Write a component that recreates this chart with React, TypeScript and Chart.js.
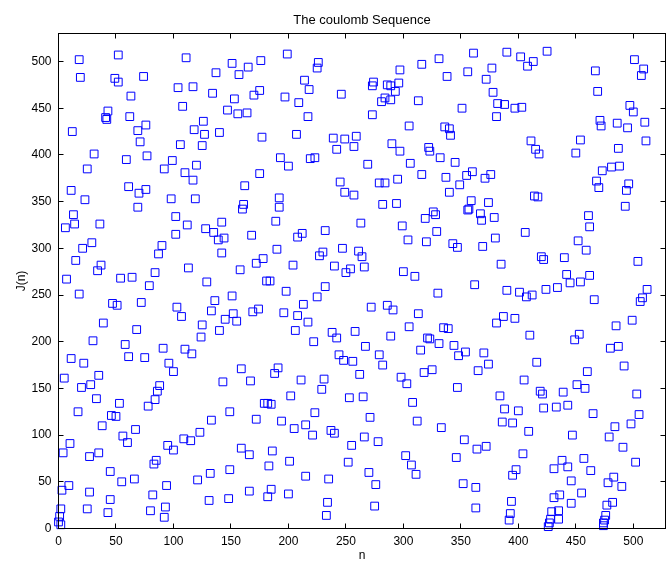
import React, { useEffect, useRef } from 'react';
import { Chart, registerables } from 'chart.js';

Chart.register(...registerables);

// ---- Text ----
const TITLE = 'The coulomb Sequence';
const X_LABEL = 'n';
const Y_LABEL = 'J(n)';

// ---- Axis ticks ----
const xTicks = [0, 50, 100, 150, 200, 250, 300, 350, 400, 450, 500];
const yTicks = [0, 50, 100, 150, 200, 250, 300, 350, 400, 450, 500];
const X_MAX = 528;
const Y_MAX = 530;

// ---- Data: [n, J(n)], grouped by region ----
const topLeft = [
  [18, 502], [52, 507], [111, 504], [19, 483], [49, 482], [52, 478], [74, 484], [151, 498], [165, 494], [157, 486],
  [137, 488], [104, 472], [117, 473], [134, 466], [63, 463], [108, 452], [153, 460], [170, 464], [43, 447], [41, 440],
  [42, 438], [62, 441], [147, 448], [156, 444], [164, 445], [126, 436], [118, 427], [127, 422], [140, 424], [76, 432],
  [69, 426], [71, 414], [12, 425], [106, 411], [125, 410], [31, 401],
];
const topMid = [
  [176, 501], [199, 508], [226, 499], [225, 493], [214, 480], [218, 470], [175, 469], [197, 462], [209, 456], [246, 465],
  [217, 441], [177, 419], [207, 422], [239, 418], [249, 417], [259, 420], [242, 406], [257, 409], [274, 478], [273, 474],
  [286, 475], [289, 474], [296, 477], [293, 468], [297, 491], [316, 497], [331, 503], [338, 484], [284, 461], [281, 457],
  [289, 459], [313, 458], [273, 443], [305, 431], [336, 430], [340, 428], [341, 421], [351, 450], [290, 412], [297, 404],
  [322, 408], [323, 404],
];
const topRight = [
  [361, 509], [390, 510], [402, 505], [413, 500], [408, 495], [425, 511], [356, 489], [377, 493], [372, 481], [378, 467],
  [382, 455], [388, 454], [397, 450], [403, 451], [381, 441], [411, 415], [415, 406], [418, 401], [454, 416], [450, 402],
  [467, 490], [469, 468], [471, 437], [472, 431], [501, 502], [509, 492], [507, 485], [497, 453], [500, 446], [486, 434],
  [495, 429], [510, 435], [511, 415], [487, 407],
];
const upperLeft = [
  [59, 395], [77, 399], [99, 394], [92, 385], [120, 389], [110, 381], [117, 373], [25, 385], [11, 362], [23, 352],
  [61, 366], [70, 359], [76, 363], [69, 344], [98, 353], [119, 353], [162, 367], [161, 347], [160, 342], [13, 336],
  [6, 322], [14, 326], [36, 326], [102, 334], [112, 325], [102, 315], [128, 321], [135, 317], [142, 328], [139, 309],
  [144, 311], [168, 314], [142, 295], [29, 306], [21, 300], [90, 303], [87, 294], [15, 287], [37, 282], [34, 276],
  [84, 274], [113, 279], [158, 277], [172, 284], [7, 267], [54, 268], [64, 269],
];
const upperMid = [
  [193, 397], [219, 396], [223, 397], [200, 388], [175, 380], [269, 390], [306, 391], [332, 397], [345, 392], [245, 371],
  [249, 360], [257, 357], [279, 370], [284, 370], [295, 374], [316, 379], [337, 376], [349, 368], [340, 360], [282, 347],
  [294, 348], [192, 354], [192, 344], [189, 329], [232, 319], [263, 327], [212, 316], [208, 312], [326, 339], [328, 336],
  [319, 332], [299, 324], [329, 318], [304, 309], [320, 307], [343, 305], [347, 301], [190, 299], [178, 289], [247, 300],
  [261, 297], [230, 296], [227, 292], [264, 291], [204, 282], [240, 281], [254, 278], [250, 274], [266, 280], [300, 275],
  [310, 270],
];
const upperRight = [
  [360, 382], [355, 378], [371, 375], [376, 379], [473, 383], [481, 387], [488, 388], [468, 372], [470, 365], [496, 369],
  [494, 362], [493, 345], [414, 356], [417, 355], [359, 351], [357, 342], [356, 341], [374, 349], [367, 337], [368, 330],
  [379, 333], [461, 335], [462, 323], [406, 317], [380, 311], [369, 302], [452, 308], [459, 298], [420, 291], [422, 288],
  [440, 290], [504, 286], [385, 283], [442, 272], [462, 271],
];
const lowerLeft = [
  [79, 260], [129, 264], [18, 251], [47, 241], [51, 239], [72, 242], [103, 237], [107, 227], [136, 244], [133, 233],
  [151, 249], [152, 230], [145, 224], [155, 222], [169, 232], [39, 220], [68, 213], [125, 218], [140, 212], [124, 205],
  [30, 201], [58, 197], [91, 193], [110, 192], [116, 187], [61, 184], [75, 183], [11, 182], [22, 177], [96, 177],
  [100, 168], [159, 171], [167, 158], [143, 157], [5, 161], [20, 151], [28, 154], [35, 164], [88, 153], [86, 147],
  [84, 138], [33, 139], [53, 134],
];
const lowerMid = [
  [181, 265], [184, 265], [198, 254], [232, 259], [225, 248], [174, 235], [213, 240], [196, 231], [208, 228], [217, 221],
  [206, 212], [222, 200], [238, 210], [242, 204], [258, 211], [272, 237], [286, 239], [291, 234], [313, 230], [330, 252],
  [305, 216], [289, 206], [267, 195], [279, 186], [244, 186], [248, 180], [256, 179], [282, 175], [321, 204], [323, 203],
  [335, 215], [339, 214], [331, 198], [315, 191], [344, 196], [348, 185], [191, 172], [188, 166], [262, 165], [318, 167],
  [325, 170], [298, 162], [303, 155], [211, 159], [231, 160], [229, 149], [202, 142], [253, 140], [265, 141], [347, 151],
  [308, 135], [179, 134], [182, 134], [185, 133],
];
const lowerRight = [
  [362, 261], [390, 255], [401, 253], [407, 248], [412, 250], [424, 256], [434, 258], [445, 263], [454, 264], [466, 245],
  [512, 256], [508, 247], [506, 243], [387, 227], [381, 220], [397, 225], [410, 207], [499, 223], [485, 217], [453, 208],
  [449, 202], [480, 193], [487, 195], [354, 189], [370, 188], [416, 178], [374, 176], [365, 169], [492, 174], [460, 168],
  [405, 159], [451, 154], [458, 150], [384, 142], [419, 147], [421, 144], [439, 146], [503, 144],
];
const bottomLeft = [
  [78, 131], [17, 125], [46, 121], [50, 120], [38, 110], [67, 106], [56, 99], [60, 92], [10, 91], [4, 81],
  [27, 77], [35, 81], [83, 69], [85, 73], [95, 89], [100, 84], [109, 96], [115, 94], [123, 103], [133, 116],
  [149, 125], [159, 86], [166, 79], [172, 117], [45, 61], [55, 50], [66, 53], [9, 46], [3, 41], [27, 39],
  [45, 31], [25, 21], [43, 17], [2, 21], [1, 13], [0, 7], [2, 4], [82, 36], [80, 19], [94, 46],
  [93, 23], [92, 12], [121, 52], [132, 59], [149, 63], [131, 30], [148, 32], [166, 40],
];
const bottomMid = [
  [194, 115], [223, 124], [205, 107], [215, 111], [221, 100], [237, 105], [240, 102], [255, 89], [266, 98], [271, 119],
  [278, 93], [312, 115], [333, 108], [186, 83], [183, 67], [201, 72], [215, 56], [235, 53], [252, 71], [270, 60],
  [276, 47], [302, 78], [307, 68], [311, 58], [346, 76], [185, 42], [182, 34], [200, 37], [234, 28], [233, 14],
  [275, 24],
];
const bottomRight = [
  [388, 128], [400, 126], [422, 129], [433, 130], [443, 132], [386, 114], [395, 113], [409, 104], [353, 95], [364, 85],
  [372, 88], [404, 80], [465, 123], [505, 122], [498, 112], [484, 109], [479, 98], [447, 100], [491, 87], [502, 71],
  [457, 75], [463, 62], [438, 73], [443, 66], [431, 64], [398, 63], [395, 57], [483, 55], [478, 49], [490, 45],
  [446, 51], [352, 48], [363, 44], [455, 38], [436, 36], [431, 33], [446, 27], [394, 29], [363, 22], [393, 16],
  [392, 9], [435, 19], [429, 18], [435, 10], [428, 10], [427, 6], [426, 2], [482, 28], [477, 25], [476, 14],
  [475, 9], [474, 6], [474, 3],
];

const FONT = "'Liberation Sans', Arial, Helvetica, sans-serif";

const matlabAxes = {
  id: 'matlabAxes',
  afterDatasetsDraw(chart: any) {
    const { ctx, chartArea: a, scales } = chart;
    ctx.save();
    ctx.strokeStyle = '#000';
    ctx.lineWidth = 1;
    ctx.strokeRect(a.left, a.top, a.right - a.left, a.bottom - a.top);
    const tl = 5;
    ctx.beginPath();
    for (const v of xTicks) {
      const px = Math.floor(scales.x.getPixelForValue(v)) + 0.5;
      ctx.moveTo(px, a.bottom);
      ctx.lineTo(px, a.bottom - tl);
      ctx.moveTo(px, a.top);
      ctx.lineTo(px, a.top + tl);
    }
    for (const v of yTicks) {
      const py = Math.floor(scales.y.getPixelForValue(v)) + 0.5;
      ctx.moveTo(a.left, py);
      ctx.lineTo(a.left + tl, py);
      ctx.moveTo(a.right, py);
      ctx.lineTo(a.right - tl, py);
    }
    ctx.stroke();
    ctx.fillStyle = '#000';
    ctx.textAlign = 'center';
    ctx.textBaseline = 'middle';
    const cx = (a.left + a.right) / 2;
    ctx.font = `13px ${FONT}`;
    ctx.fillText(TITLE, cx, 20.5);
    ctx.font = `12px ${FONT}`;
    ctx.fillText(X_LABEL, cx, 556);
    ctx.translate(22, (a.top + a.bottom) / 2);
    ctx.rotate(-Math.PI / 2);
    ctx.fillText(Y_LABEL, 0, 0);
    ctx.restore();
  },
};

export default function App() {
  const canvasRef = useRef<HTMLCanvasElement | null>(null);

  useEffect(() => {
    const canvas = canvasRef.current;
    if (!canvas) return;
    const all = [
      ...topLeft, ...topMid, ...topRight,
      ...upperLeft, ...upperMid, ...upperRight,
      ...lowerLeft, ...lowerMid, ...lowerRight,
      ...bottomLeft, ...bottomMid, ...bottomRight,
    ];
    const chart = new Chart(canvas, {
      type: 'scatter',
      data: {
        datasets: [
          {
            data: all.map(([n, j]) => ({ x: n, y: j })),
            pointStyle: 'rect',
            pointRadius: 5.5,
            pointHoverRadius: 5.5,
            borderWidth: 1,
            borderColor: 'rgb(0,0,255)',
            backgroundColor: 'rgba(0,0,0,0)',
            clip: false,
          } as any,
        ],
      },
      options: {
        animation: false,
        responsive: false,
        events: [],
        layout: { autoPadding: false, padding: { top: 33.5, right: 1.5, left: 0, bottom: 0 } },
        plugins: {
          legend: { display: false },
          title: { display: false },
          tooltip: { enabled: false },
        },
        scales: {
          x: {
            type: 'linear',
            min: 0,
            max: X_MAX,
            grid: { display: false, drawTicks: false },
            border: { display: false },
            ticks: {
              stepSize: 50,
              includeBounds: false,
              autoSkip: false,
              maxRotation: 0,
              padding: 6,
              color: '#000',
              font: { family: FONT, size: 12 },
            },
            afterFit: (s: any) => {
              s.height = 33.5;
              s.paddingLeft = 0;
              s.paddingRight = 0;
            },
          },
          y: {
            type: 'linear',
            min: 0,
            max: Y_MAX,
            grid: { display: false, drawTicks: false },
            border: { display: false },
            ticks: {
              stepSize: 50,
              includeBounds: false,
              autoSkip: false,
              padding: 7,
              color: '#000',
              font: { family: FONT, size: 12 },
            },
            afterFit: (s: any) => {
              s.width = 58.5;
              s.paddingTop = 0;
              s.paddingBottom = 0;
            },
          },
        },
      },
      plugins: [matlabAxes],
    });
    return () => chart.destroy();
  }, []);

  return (
    <div style={{ position: 'fixed', left: 0, top: 0, width: 667, height: 562, background: '#fff' }}>
      <canvas ref={canvasRef} width={667} height={562} style={{ display: 'block' }} />
    </div>
  );
}
